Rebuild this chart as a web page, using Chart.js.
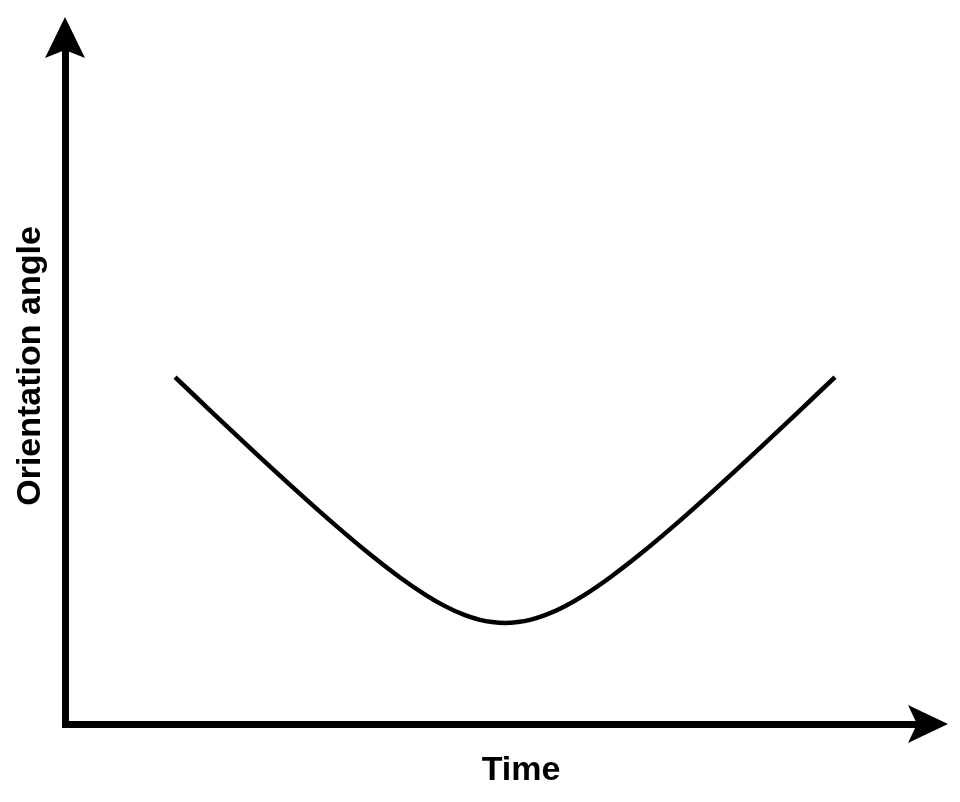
<!DOCTYPE html>
<html>
<head>
<meta charset="utf-8">
<title>Orientation angle vs time</title>
<script src="https://cdn.jsdelivr.net/npm/chart.js@4.4.1/dist/chart.umd.min.js"></script>
<style>
  html, body { margin: 0; padding: 0; background: #fff; }
  #wrap { width: 960px; height: 802px; }
</style>
</head>
<body>
<div id="wrap"><canvas id="angleChart" width="960" height="802"></canvas></div>
<script>
// Curve (arbitrary units, axes 0..100)
const times  = [12.87, 17.54, 22.22, 26.90, 31.58, 35.67, 39.18, 42.11, 44.44, 46.78, 48.54, 49.94,
                51.46, 52.98, 54.39, 56.14, 58.48, 60.82, 63.74, 67.25, 71.35, 76.02, 80.70,
                85.38, 90.06];
const angles = [51.10, 45.49, 39.96, 34.55, 29.32, 24.99, 21.58, 19.06, 17.36, 16.02, 15.33, 15.01,
                14.87, 15.01, 15.33, 16.02, 17.36, 19.06, 21.58, 24.99, 29.32, 34.55, 39.96,
                45.49, 51.10];
const xTitle = 'Time';
const yTitle = 'Orientation angle';

const points = times.map((t, i) => ({ x: t, y: angles[i] }));

// Arrow heads on the axes + axis labels
const axisArrows = {
  id: 'axisArrows',
  afterDraw(chart) {
    const { ctx, chartArea } = chart;
    const x0 = chartArea.left, y0 = chartArea.bottom;
    ctx.save();
    ctx.fillStyle = '#000';

    // up arrow
    const top = chartArea.top;
    ctx.beginPath();
    ctx.moveTo(x0, top - 28);
    ctx.lineTo(x0 + 20, top + 13);
    ctx.lineTo(x0, top + 5);
    ctx.lineTo(x0 - 20, top + 13);
    ctx.closePath();
    ctx.fill();

    // right arrow
    const right = chartArea.right;
    ctx.beginPath();
    ctx.moveTo(right + 28, y0);
    ctx.lineTo(right - 12, y0 - 19);
    ctx.lineTo(right - 3, y0);
    ctx.lineTo(right - 12, y0 + 19);
    ctx.closePath();
    ctx.fill();

    // labels
    ctx.font = 'bold 34px "Liberation Sans", Arial, sans-serif';
    ctx.textAlign = 'center';
    ctx.textBaseline = 'alphabetic';
    ctx.fillText(xTitle, 521, 780);

    ctx.translate(40, 366);
    ctx.rotate(-Math.PI / 2);
    ctx.fillText(yTitle, 0, 0);
    ctx.restore();
  }
};

new Chart(document.getElementById('angleChart'), {
  type: 'line',
  data: {
    datasets: [{
      data: points,
      borderColor: '#000',
      borderWidth: 4.5,
      pointRadius: 0,
      fill: false,
      cubicInterpolationMode: 'monotone'
    }]
  },
  options: {
    responsive: false,
    animation: false,
    devicePixelRatio: 1,
    layout: { padding: { left: 65, top: 45, right: 40, bottom: 78 } },
    plugins: {
      legend: { display: false },
      tooltip: { enabled: false }
    },
    scales: {
      x: {
        type: 'linear',
        min: 0,
        max: 100,
        ticks: { display: false },
        grid: { display: false, drawTicks: false },
        border: { display: true, color: '#000', width: 7 }
      },
      y: {
        min: 0,
        max: 100,
        ticks: { display: false },
        grid: { display: false, drawTicks: false },
        border: { display: true, color: '#000', width: 7 }
      }
    }
  },
  plugins: [axisArrows]
});
</script>
</body>
</html>
